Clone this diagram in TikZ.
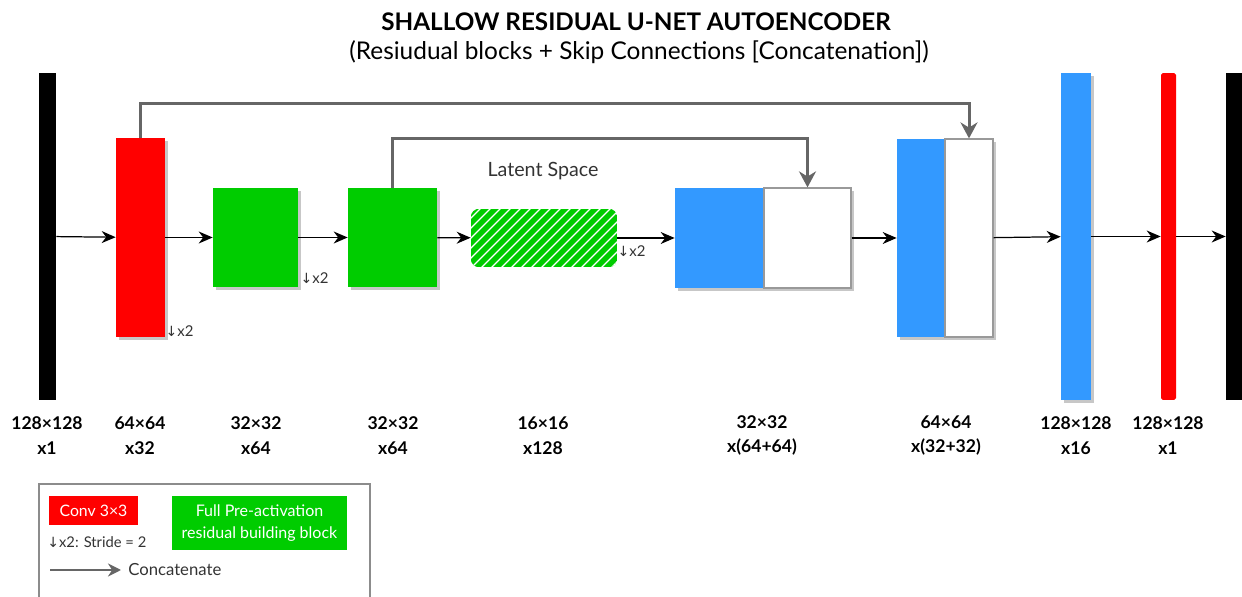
\documentclass[tikz,border=0pt]{standalone}
\usepackage{fontspec}
\setmainfont{Lato}
\newfontfamily\arrowfont{DejaVu Sans}
\usetikzlibrary{arrows.meta,positioning,calc,shadows}

\definecolor{convred}{HTML}{FF0000}
\definecolor{resgreen}{HTML}{00CC00}
\definecolor{upblue}{HTML}{3399FF}
\definecolor{skipgray}{HTML}{666666}
\newcommand{\dsx}{{\arrowfont\fontsize{8}{8}\selectfont ↓}x2}

\begin{document}
\begin{tikzpicture}[
  x=0.02cm, y=-0.02cm,
  >=Stealth,
  layer/.style={rectangle, inner sep=0pt,
                drop shadow={shadow xshift=0.06cm, shadow yshift=-0.06cm,
                             fill=black!22, opacity=1}},
  conv/.style={layer, fill=convred},
  res/.style={layer, fill=resgreen},
  up/.style={layer, fill=upblue},
  cat/.style={layer, fill=white, draw=black!40, line width=0.7pt},
  bar/.style={rectangle, inner sep=0pt, minimum height=6.54cm},
  flow/.style={-{Stealth[length=0.28cm,width=0.24cm]}, line width=0.7pt},
  skip/.style={-{Stealth[length=0.32cm,width=0.34cm]}, draw=skipgray, line width=1.7pt},
  dims/.style={font=\fontsize{10}{14}\selectfont\bfseries, align=center},
  note/.style={font=\fontsize{8.5}{10}\selectfont, text=black!80, inner sep=0pt, anchor=west}
]
  \useasboundingbox (0,0) rectangle (1242,597);

  % title
  \node[font=\fontsize{13.8}{16}\selectfont\bfseries] (title) at (636,22) {SHALLOW RESIDUAL U-NET AUTOENCODER};
  \node[font=\fontsize{13.9}{16}\selectfont] (subtitle) at (639,52) {(Resiudual blocks + Skip Connections [Concatenation])};

  % layers
  \node[bar, fill=black, minimum width=0.34cm] (in) at (47.5,236.5) {};
  \node[conv, minimum width=0.98cm, minimum height=3.98cm] (conv1) at (140.5,237.5) {};
  \node[res, minimum width=1.7cm, minimum height=1.98cm] (res1) at (255.5,237.5) {};
  \node[res, minimum width=1.78cm, minimum height=1.98cm] (res2) at (392.5,237.5) {};
  \node[rectangle, inner sep=0pt, minimum width=2.92cm, minimum height=1.16cm] (latent) at (544,238) {};
  \node[up, minimum width=1.78cm, minimum height=2cm] (up1) at (719.5,238) {};
  \node[cat, minimum width=1.74cm, minimum height=2cm] (skip1) at (807.5,238) {};
  \node[up, minimum width=0.96cm, minimum height=3.96cm] (up2) at (921,238) {};
  \node[cat, minimum width=0.96cm, minimum height=3.96cm] (skip2) at (969,238) {};
  \node[bar, up, minimum width=0.6cm] (dec) at (1076,236.5) {};
  \node[bar, fill=convred, rounded corners=1pt, minimum width=0.3cm] (conv2) at (1168.5,236.5) {};
  \node[bar, fill=black, minimum width=0.32cm] (out) at (1234,236.5) {};

  % hatched latent block
  \begin{scope}
    \clip[rounded corners=5pt] (latent.south west) rectangle (latent.north east);
    \fill[resgreen] (latent.south west) rectangle (latent.north east);
    \foreach \i in {0,...,21}
      \draw[white, line width=0.028cm]
        ($(latent.south west)+(\i*10-55,6)$) -- ++(66,-66);
  \end{scope}
  \node[font=\fontsize{11.2}{13}\selectfont, text=black!80] (latentlbl) at (543,171) {Latent Space};

  % forward path
  \draw[flow] (in) -- (conv1);
  \draw[flow] (conv1) -- (res1);
  \draw[flow] (res1) -- (res2);
  \draw[flow] (res2) -- (latent);
  \draw[flow] (latent) -- (up1);
  \draw[flow] (skip1) -- (up2);
  \draw[flow] (skip2) -- (dec);
  \draw[flow] (dec) -- (conv2);
  \draw[flow] (conv2) -- (out);

  % stride marks
  \node[note, anchor=south west] (s1) at (conv1.south east) {\dsx};
  \node[note, anchor=south west] (s2) at ($(res1.south east)+(2,-3)$) {\dsx};
  \node[note, anchor=north west] (s3) at ($(latent.east)+(0,7)$) {\dsx};

  % skip connections
  \draw[skip] (conv1.north) -- ++(0,-34) -| (skip2.north);
  \draw[skip] (res2.north) -- ++(0,-49) -| (skip1.north);

  % dimensions
  \node[dims] (d1) at (47,435.5) {128×128\\x1};
  \node[dims] (d2) at (140,435.5) {64×64\\x32};
  \node[dims] (d3) at (256,435.5) {32×32\\x64};
  \node[dims] (d4) at (393,435.5) {32×32\\x64};
  \node[dims] (d5) at (543,435.5) {16×16\\x128};
  \node[dims] (d6) at (762,435.5) {32×32\\x(64+64)};
  \node[dims] (d7) at (946,435.5) {64×64\\x(32+32)};
  \node[dims] (d8) at (1076,435.5) {128×128\\x16};
  \node[dims] (d9) at (1168,435.5) {128×128\\x1};

  % legend
  \draw[black!45, line width=0.8pt] (39,600) -- (39,484) -- (370,484) -- (370,600);
  \node[fill=convred, text=white, inner sep=0pt, minimum width=1.78cm, minimum height=0.58cm,
        font=\fontsize{9}{10}\selectfont] (lgconv) at (93.5,510.5) {Conv 3×3};
  \node[fill=resgreen, text=white, inner sep=0pt, minimum width=3.5cm, minimum height=1.08cm,
        align=center, font=\fontsize{9.1}{13}\selectfont] (lgres) at (259.5,523) {Full Pre-activation\\residual building block};
  \node[note, font=\fontsize{8.4}{10}\selectfont] (lgstride) at (47,542) {\dsx: Stride = 2};
  \coordinate (lgstart) at (50,570);
  \node[note, font=\fontsize{9.5}{10}\selectfont] (lgcat) at (128,570) {Concatenate};
  \draw[skip, line width=1.4pt, -{Stealth[length=0.26cm,width=0.26cm]}] (lgstart) -- ($(lgcat.west)+(-7,0)$);
\end{tikzpicture}
\end{document}
